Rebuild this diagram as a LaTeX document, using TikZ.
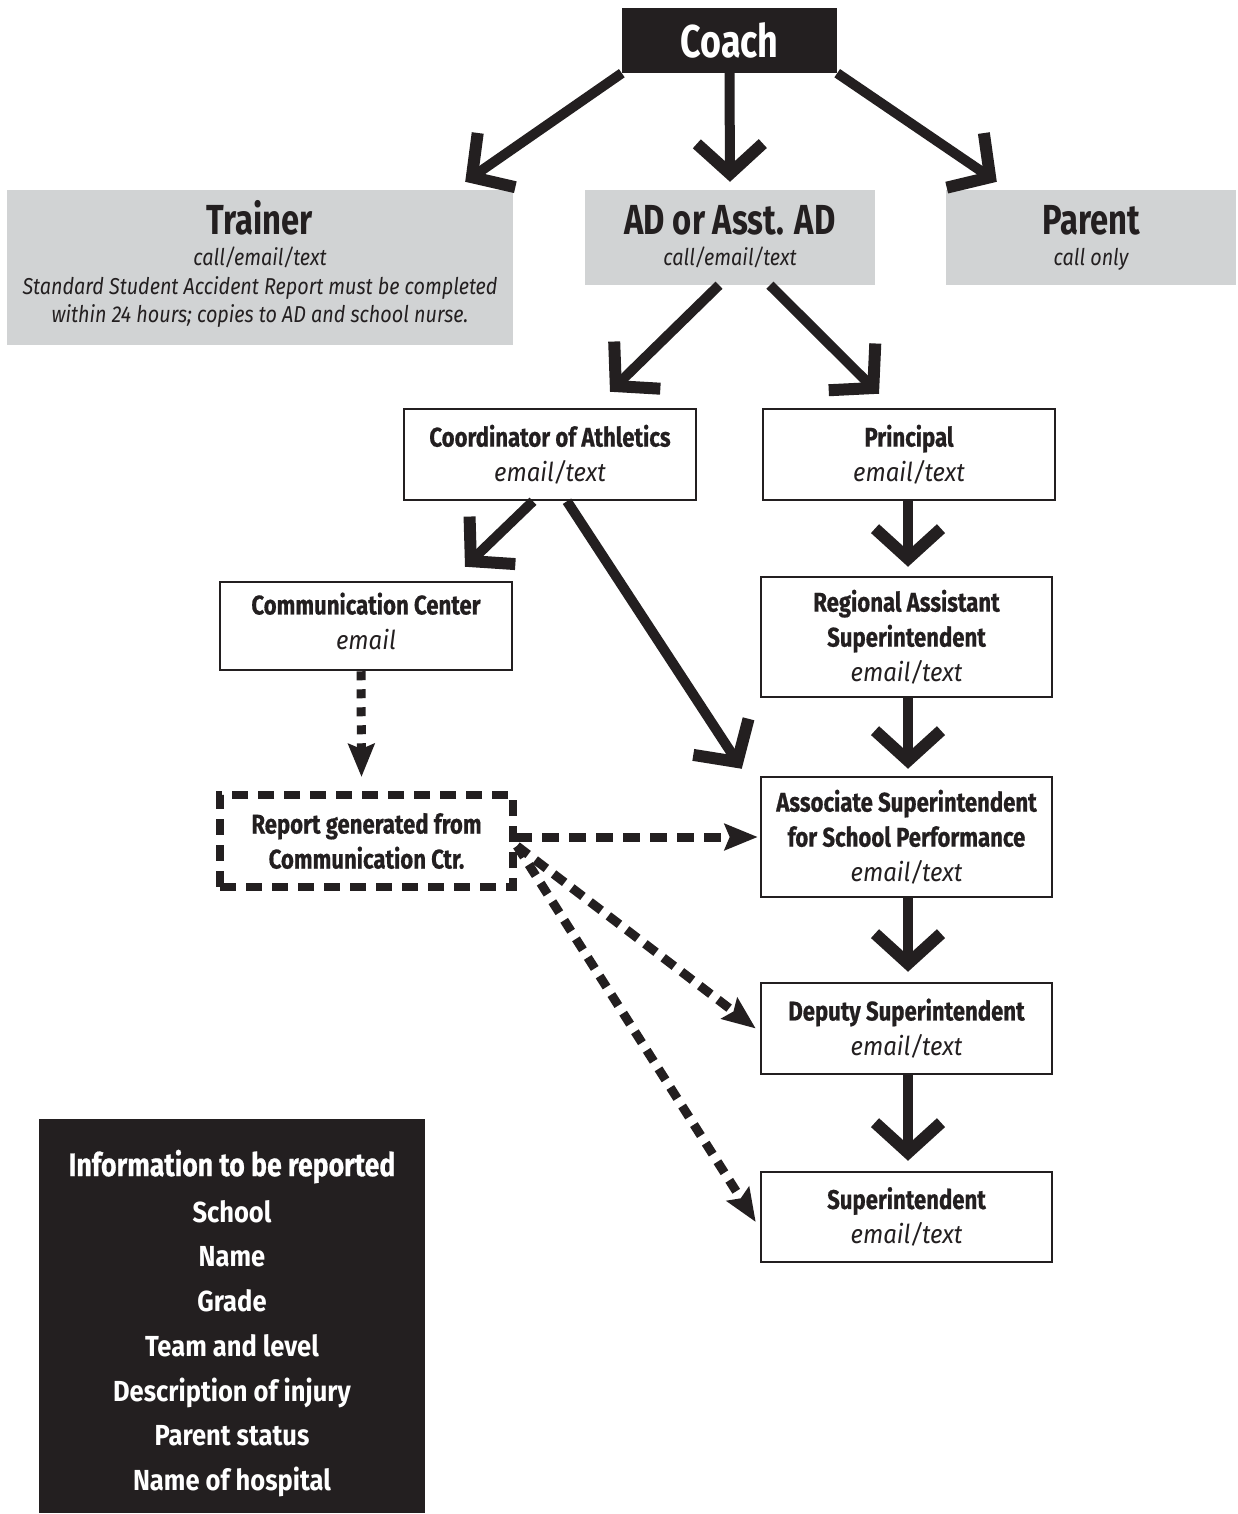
\documentclass[tikz,border=0pt]{standalone}
\usepackage{fontspec}
\setmainfont{Fira Sans}
\newfontfamily\cb[FakeStretch=0.78]{Fira Sans}
\newfontfamily\bb[FakeStretch=0.82, FakeBold=0.6]{Fira Sans}
\newfontfamily\ci[FakeStretch=0.86]{Fira Sans}
\newfontfamily\ib[FakeStretch=0.92]{Fira Sans}
\newfontfamily\nb[FakeStretch=0.88]{Fira Sans}
\usetikzlibrary{arrows.meta,calc}
\definecolor{ink}{HTML}{231F20}
\definecolor{panel}{HTML}{D1D3D4}
\tikzset{
  graybox/.style={fill=panel, draw=none, inner sep=0pt, align=center, text=ink,
    font=\ci\itshape\fontsize{23}{28.5}\selectfont},
  wbox/.style={draw=ink, line width=2.5pt, fill=white, inner sep=0pt, align=center, text=ink,
    font=\bb\bfseries\fontsize{27}{35}\selectfont},
  dbox/.style={draw=ink, line width=8pt, dash pattern=on 16pt off 10pt, inner sep=0pt, align=center, text=ink,
    font=\bb\bfseries\fontsize{27}{35}\selectfont},
  bigarrow/.style={draw=ink, line width=10pt, -{Straight Barb[length=30pt, width=66pt, line width=12pt]}},
  dasharrow/.style={draw=ink, line width=9pt, dash pattern=on 14pt off 9pt,
    -{Stealth[length=33pt, width=26pt, inset=5pt]}}
}
\newcommand{\itl}[1]{{\ib\itshape\mdseries\fontsize{26}{35}\selectfont #1}}
\newcommand{\bigt}[1]{{\cb\bfseries\upshape\fontsize{42}{42}\selectfont #1}}
\begin{document}
\begin{tikzpicture}[x=1pt, y=-1pt]
\useasboundingbox (0,0) rectangle (1238,1514);

% top level
\node[fill=ink, text=white, minimum width=215pt, minimum height=65pt, inner sep=0pt,
  font=\cb\bfseries\fontsize{46}{46}\selectfont] (coach) at (729.5,40.5) {Coach};

\node[graybox, minimum width=506pt, minimum height=155pt] (trainer) at (260,267.5)
  {\bigt{Trainer}\\[2.5pt]
   call/email/text\\
   Standard Student Accident Report must be completed\\
   within 24 hours; copies to AD and school nurse.\rule[-12pt]{0pt}{0pt}};
\node[graybox, minimum width=290pt, minimum height=95pt] (ad) at (730,237.5)
  {\bigt{AD or Asst. AD}\\[2.5pt]
   call/email/text\rule[-5pt]{0pt}{0pt}};
\node[graybox, minimum width=290pt, minimum height=95pt] (parent) at (1091,237.5)
  {\bigt{Parent}\\[2.5pt]
   call only\rule[-5pt]{0pt}{0pt}};

% second level
\node[wbox, minimum width=292pt, minimum height=91pt] (coord) at (550,454.5)
  {Coordinator of Athletics\\ \itl{email/text}};
\node[wbox, minimum width=292pt, minimum height=91pt] (principal) at (909,454.5)
  {Principal\\ \itl{email/text}};
\node[wbox, minimum width=292pt, minimum height=88pt] (comm) at (366,626)
  {Communication Center\\ \itl{email}\rule[-10pt]{0pt}{0pt}};
\node[wbox, minimum width=291pt, minimum height=120pt] (regional) at (906.5,637)
  {Regional Assistant\\ Superintendent\\ \itl{email/text}};
\node[wbox, minimum width=291pt, minimum height=120pt] (assoc) at (906.5,837)
  {Associate Superintendent\\ for School Performance\\ \itl{email/text}};
\node[dbox, minimum width=293pt, minimum height=92pt] (report) at (366.5,841)
  {Report generated from\\ Communication Ctr.};
\node[wbox, minimum width=291pt, minimum height=91pt] (deputy) at (906.5,1028.5)
  {Deputy Superintendent\\ \itl{email/text}\rule[-3pt]{0pt}{0pt}};
\node[wbox, minimum width=291pt, minimum height=90pt] (super) at (906.5,1217)
  {Superintendent\\ \itl{email/text}\rule[-3pt]{0pt}{0pt}};

% info box
\node[fill=ink, text=white, minimum width=386pt, minimum height=394pt, inner sep=0pt, align=center,
  font=\nb\bfseries\fontsize{29}{44.7}\selectfont] (info) at (232,1316)
  {\rule{0pt}{41pt}{\bb\fontsize{32.5}{32.5}\selectfont Information to be reported}\\[1.5pt]
   School\\ Name\\ Grade\\ Team and level\\ Description of injury\\ Parent status\\ Name of hospital};

% solid arrows
\draw[bigarrow] (coach.south west) -- ($(trainer.north east)+(-48,-8)$);
\draw[bigarrow] (coach.south) -- ($(ad.north)+(0,-8)$);
\draw[bigarrow] (coach.south east) -- ($(parent.north west)+(51,-8)$);
\draw[bigarrow] ($(ad.south)+(-11,0)$) -- ($(coord.north)+(60,-16)$);
\draw[bigarrow] ($(ad.south)+(40,0)$) -- ($(principal.north)+(-30,-14)$);
\draw[bigarrow] ($(coord.south)+(-17,0)$) -- ($(comm.north)+(99,-14)$);
\draw[bigarrow] ($(coord.south)+(17,0)$) -- ($(assoc.north west)+(-18,-7)$);
\draw[bigarrow] ($(principal.south)+(-1,0)$) -- ($(regional.north)+(1.5,-9)$);
\draw[bigarrow] ($(regional.south)+(1.5,0)$) -- ($(assoc.north)+(1.5,-7)$);
\draw[bigarrow] ($(assoc.south)+(1.5,0)$) -- ($(deputy.north)+(1.5,-10)$);
\draw[bigarrow] ($(deputy.south)+(1.5,0)$) -- ($(super.north)+(1.5,-10)$);

% dashed arrows
\draw[dasharrow, dash pattern=on 9pt off 9pt] ($(comm.south)+(-5,0)$) -- ($(report.north)+(-5,-14)$);
\draw[dasharrow, dash pattern=on 17pt off 10pt] ($(report.east)+(-2,-4)$) -- ($(assoc.west)+(-2,0)$);
\draw[dasharrow, dash pattern=on 14pt off 9pt] ($(report.east)+(0,5)$) -- ($(deputy.west)+(-4,0)$);
\draw[dasharrow, dash pattern=on 13pt off 9pt] ($(report.east)+(0,5)$) -- ($(super.west)+(-4,5)$);
\end{tikzpicture}
\end{document}
